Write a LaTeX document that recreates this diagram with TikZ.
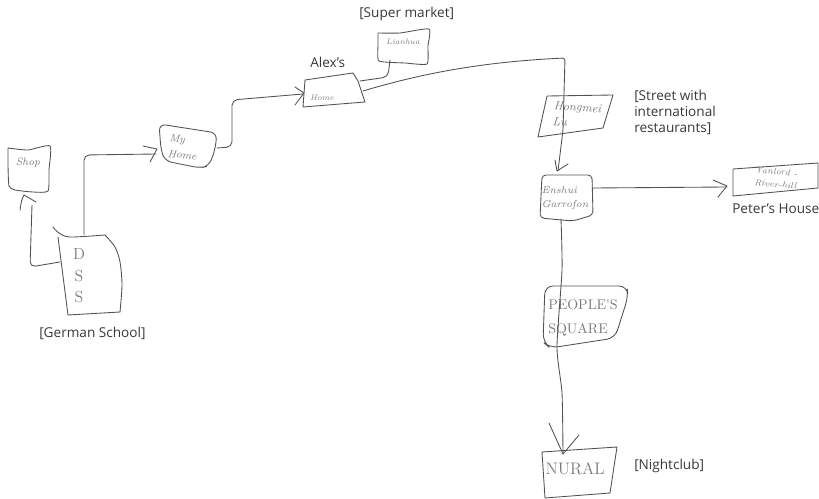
\documentclass[tikz,border=0pt]{standalone}
\usepackage{fontspec}
\setmainfont{Open Sans}
\newfontfamily\handfont{Latin Modern Roman}
\begin{document}
\begin{tikzpicture}[x=0.75pt,y=-0.75pt,
  ink/.style={draw=black!68,line width=0.65pt,line join=round,line cap=round},
  wire/.style={ink,rounded corners=4pt},
  lab/.style={font=\fontsize{10.2}{12}\selectfont,text=black!78,inner sep=0pt,align=left},
  hand/.style={font=\handfont\itshape\fontsize{#1}{#1}\selectfont,text=black!52,inner sep=0pt,align=left},
  handcap/.style={font=\handfont\fontsize{#1}{#1}\selectfont,text=black!52,inner sep=0pt,align=left},
  hand/.default=8]
\useasboundingbox (0,0) rectangle (819,499);

% hand-drawn boxes
\draw[ink] plot[smooth,tension=0.35] coordinates {(8,148) (28,150) (50,146) (49,170) (48,191) (33,192) (15,190) (9,186) (8,165) (8,148)};
\draw[ink] plot[smooth,tension=0.5] coordinates {(53,227) (59,233) (70,237) (105,235)};
\draw[ink] plot[smooth,tension=0.5] coordinates {(105,235) (115,247) (120,262) (122,285) (120,312)};
\draw[ink] (58,237) -- (68,315) -- (120,312);
\draw[ink,rounded corners=5pt] (159,124) -- (217,133) -- (215,150) -- (209,166) -- (200,168) -- (165,161) -- (161,150) -- cycle;
\draw[ink] (305,80) -- (353,73) -- (358,81) -- (365,102) -- (303,107) -- cycle;
\draw[ink] plot[smooth,tension=0.3] coordinates {(378,33) (400,33) (429,29) (428,46) (427,64) (405,63) (379,61) (378,45) (378,33)};
\draw[ink] (547,96) -- (613,95) -- (603,128) -- (538,137) -- cycle;
\draw[ink,rounded corners=3pt] (542,175) -- (592,175) -- (593,215) -- (573,221) -- (540,218) -- cycle;
\draw[ink] (733,169) -- (818,163) -- (818,188) -- (733,196) -- cycle;
\draw[ink,rounded corners=6pt] (545,286) -- (627,286) -- (628,297) -- (615,338) -- (550,348) -- (543,342) -- cycle;
\draw[ink] (542,452) -- (617,447) -- (610,493) -- (545,498) -- cycle;

% handwriting in the boxes
\node[hand=8] (shop) at (28,163) {Shop};
\node[handcap=12,align=center] (dss) at (79,276) {D\\[4pt]S\\[4pt]S};
\node[hand=8,rotate=-6] (myhome) at (183,147) {My\\[4pt]Home};
\node[hand=6] (alexhome) at (322,98) {Home};
\node[hand=6] (lianhua) at (403,42) {Lianhua};
\node[hand=9,rotate=-4] (hongmei) at (577,115) {Hongmei\\[3pt]Lu};
\node[hand=7.5] (enshui) at (565,198) {Enshui\\[3pt]Garrofon};
\node[hand=6.5,rotate=-5] (yanlord) at (776,178) {Yanlord -\\[3pt]River-hill};
\node[handcap=10.5] (people) at (583,318) {PEOPLE'S\\[7pt]SQUARE};
\node[handcap=12.5] (nural) at (575,469) {NURAL};

% printed labels
\node[lab,anchor=west] (lgerman) at (39,333) {[German School]};
\node[lab,anchor=west] (lalex) at (310,62) {Alex's};
\node[lab,anchor=west] (lsuper) at (359,14) {[Super market]};
\node[lab,anchor=north west] (lstreet) at (634,90) {[Street with\\international\\restaurants]};
\node[lab,anchor=west] (lpeter) at (732,209) {Peter's House};
\node[lab,anchor=west] (lnight) at (634,466) {[Nightclub]};

% connector end points
\coordinate (dssL) at (60,262);
\coordinate (shopB) at (32,195);
\coordinate (dssT) at (84,235);
\coordinate (myhomeL) at (156,154);
\coordinate (myhomeR) at (217,148);
\coordinate (alexL) at (303,94);
\coordinate (alexT) at (360,81);
\coordinate (alexR) at (363,91);
\coordinate (superB) at (390,60);
\coordinate (hongmeiB) at (558,171);
\coordinate (enshuiR) at (593,188);
\coordinate (yanlordL) at (727,187);
\coordinate (enshuiB) at (561,219);
\coordinate (nuralT) at (563,454);

% connectors
\draw[wire] (dssL) -- (30,267) -- (32,205);
\draw[ink] (20,210) .. controls (21,203) and (22,198) .. (24,195) -- (36,202);
\draw[wire] (dssT) -- (84,155) -- (myhomeL);
\draw[ink] (143,146) -- (157,149) -- (150,162);
\draw[wire] (myhomeR) -- (232,147) -- (232,100) -- (alexL);
\draw[ink] (295,87) -- (304,93) -- (295,105);
\draw[wire] (alexT) -- (388,77) -- (superB);
\draw[ink,rounded corners=2pt] (alexR) .. controls (420,74) and (480,62) .. (565,58) -- (563,130) -- (hongmeiB);
\draw[ink] (555,160) -- (557,171) -- (568,164);
\draw[ink] (enshuiR) -- (yanlordL);
\draw[ink] (713,180) -- (727,186) -- (718,197);
\draw[ink] plot[smooth,tension=0.4] coordinates {(enshuiB) (562,270) (557,347) (562,393) (nuralT)};
\draw[ink] (549,423) -- (563,454) -- (579,435);
\end{tikzpicture}
\end{document}
